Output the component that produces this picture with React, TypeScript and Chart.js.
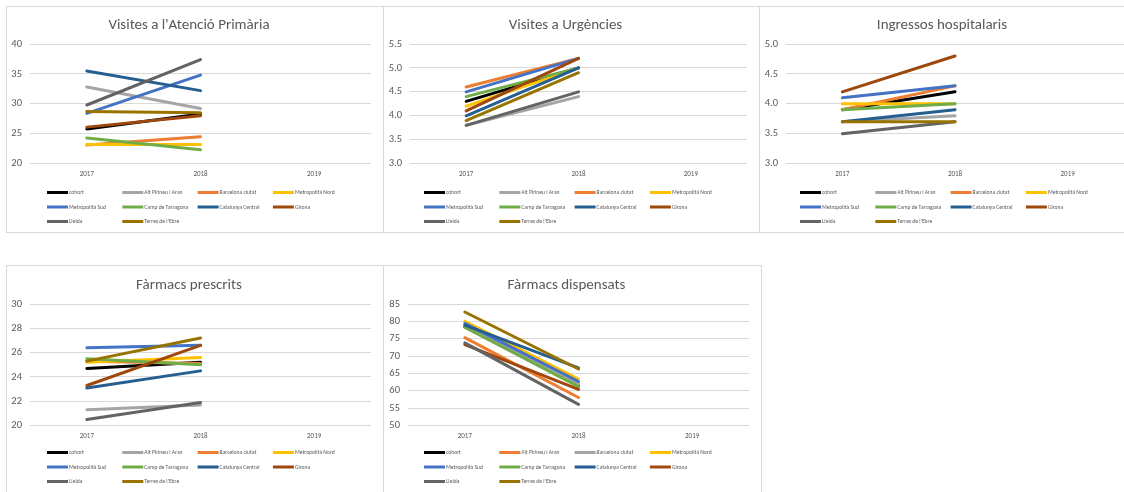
import { useEffect, useRef } from "react";
import { Chart, registerables } from "chart.js";

Chart.register(...registerables);

const FONT = "Carlito, Lato, 'Open Sans', sans-serif";
const TEXT_COLOR = "#595959";
const GRID_COLOR = "#d9d9d9";
const CANVAS_HEIGHT = 225;

const years = ["2017", "2018", "2019"];

const regions = [
  "cohort",
  "Alt Pirineu i Aran",
  "Barcelona ciutat",
  "Metropolità Nord",
  "Metropolità Sud",
  "Camp de Tarragona",
  "Catalunya Central",
  "Girona",
  "Lleida",
  "Terres de l'Ebre",
];

const palette = [
  "#000000",
  "#A5A5A5",
  "#ED7D31",
  "#FFC000",
  "#4472C4",
  "#70AD47",
  "#255E91",
  "#9E480E",
  "#636363",
  "#997300",
];

// the dispensed-drugs sheet swaps the first two regional colours
const dispensatsPalette = [
  "#000000",
  "#ED7D31",
  "#A5A5A5",
  "#FFC000",
  "#4472C4",
  "#70AD47",
  "#255E91",
  "#9E480E",
  "#636363",
  "#997300",
];

// values per region, in the order of `regions`
const primaria2017 = [25.8, 32.8, 23.1, 23.2, 28.4, 24.3, 35.5, 26.1, 29.8, 28.7];
const primaria2018 = [28.3, 29.2, 24.5, 23.2, 34.8, 22.3, 32.2, 28.0, 37.4, 28.5];

const urgencies2017 = [4.3, 3.8, 4.6, 4.2, 4.5, 4.4, 4.0, 4.1, 3.8, 3.9];
const urgencies2018 = [5.0, 4.4, 5.2, 5.0, 5.2, 5.0, 5.0, 5.2, 4.5, 4.9];

const ingressos2017 = [3.9, 3.7, 3.9, 4.0, 4.1, 3.9, 3.7, 4.2, 3.5, 3.7];
const ingressos2018 = [4.2, 3.8, 4.3, 4.0, 4.3, 4.0, 3.9, 4.8, 3.7, 3.7];

const prescrits2017 = [24.7, 21.3, 25.3, 25.2, 26.4, 25.5, 23.1, 23.3, 20.5, 25.3];
const prescrits2018 = [25.2, 21.7, 25.1, 25.6, 26.6, 25.0, 24.5, 26.6, 21.9, 27.2];

const dispensats2017 = [78.4, 75.3, 79.0, 80.0, 79.4, 78.3, 78.9, 73.3, 73.8, 82.7];
const dispensats2018 = [61.5, 58.1, 62.0, 63.4, 62.7, 61.2, 66.6, 60.4, 56.1, 66.3];

type PanelProps = {
  title: string;
  v2017: number[];
  v2018: number[];
  colors: string[];
  min: number;
  max: number;
  step: number;
  decimals: number;
  axisWidth: number;
  left: number;
  top: number;
  width: number;
  height: number;
  padTop: number;
  padBottom: number;
  legendShift: number;
};

const gridLegend = {
  id: "gridLegend",
  afterDraw(chart: any) {
    const ctx = chart.ctx as CanvasRenderingContext2D;
    const shift = chart.options.plugins.gridLegend?.shift ?? 0;
    ctx.save();
    ctx.font = `5.6px ${FONT}`;
    ctx.textBaseline = "middle";
    ctx.textAlign = "left";
    chart.data.datasets.forEach((ds: any, i: number) => {
      const col = i % 4;
      const row = Math.floor(i / 4);
      const x = 40 + col * 75.3;
      const y = 185.5 + shift + row * 14.5;
      ctx.strokeStyle = ds.borderColor;
      ctx.lineWidth = 3;
      ctx.lineCap = "butt";
      ctx.beginPath();
      ctx.moveTo(x, y);
      ctx.lineTo(x + 21, y);
      ctx.stroke();
      ctx.fillStyle = TEXT_COLOR;
      ctx.fillText(ds.label, x + 22, y + 0.3);
    });
    ctx.restore();
  },
};

function Panel(p: PanelProps) {
  const ref = useRef<HTMLCanvasElement | null>(null);
  const cw = p.width - 2;
  const ch = CANVAS_HEIGHT;

  useEffect(() => {
    if (!ref.current) return;
    const chart = new Chart(ref.current, {
      type: "line",
      data: {
        labels: years,
        datasets: regions.map((name, i) => ({
          label: name,
          data: [p.v2017[i], p.v2018[i], null],
          borderColor: p.colors[i],
          backgroundColor: p.colors[i],
          borderWidth: 3,
          borderCapStyle: "round" as const,
          pointRadius: 0,
          pointHoverRadius: 0,
          tension: 0,
          order: regions.length - i,
        })),
      },
      plugins: [gridLegend],
      options: {
        animation: false,
        responsive: false,
        devicePixelRatio: 1,
        events: [],
        layout: { padding: { left: 0, right: 12, top: p.padTop, bottom: p.padBottom } },
        plugins: {
          legend: { display: false },
          tooltip: { enabled: false },
          gridLegend: { shift: p.legendShift },
          title: {
            display: true,
            text: p.title,
            color: TEXT_COLOR,
            font: { family: FONT, size: 15, weight: "normal" },
            padding: { top: 9, bottom: 10 },
          },
        } as any,
        scales: {
          x: {
            type: "category",
            offset: true,
            grid: { display: false, drawTicks: false },
            border: { display: false },
            ticks: { color: TEXT_COLOR, font: { family: FONT, size: 7 }, padding: 6, maxRotation: 0 },
          },
          y: {
            min: p.min,
            max: p.max,
            grid: { color: GRID_COLOR, lineWidth: 1, drawTicks: false },
            border: { display: false },
            afterFit: (scale: any) => {
              scale.width = p.axisWidth;
            },
            ticks: {
              stepSize: p.step,
              color: TEXT_COLOR,
              font: { family: FONT, size: 10.5 },
              padding: 8,
              callback: (v: any) => Number(v).toFixed(p.decimals),
            },
          },
        },
      },
    });
    return () => chart.destroy();
  }, []);

  return (
    <div
      style={{
        position: "absolute",
        left: p.left,
        top: p.top,
        width: p.width,
        height: p.height,
        boxSizing: "border-box",
        border: `1px solid ${GRID_COLOR}`,
        background: "#fff",
      }}
    >
      <canvas ref={ref} width={cw} height={ch} style={{ display: "block", width: cw, height: ch }} />
    </div>
  );
}

export default function App() {
  return (
    <div
      style={{
        position: "fixed",
        left: 0,
        top: 0,
        width: 1124,
        height: 492,
        overflow: "hidden",
        background: "#fff",
      }}
    >
      <Panel title="Visites a l'Atenció Primària" v2017={primaria2017} v2018={primaria2018} colors={palette}
        min={20} max={40} step={5} decimals={0} axisWidth={23}
        left={6} top={6} width={378} height={227} padTop={0} padBottom={48} legendShift={0} />
      <Panel title="Visites a Urgències" v2017={urgencies2017} v2018={urgencies2018} colors={palette}
        min={3} max={5.5} step={0.5} decimals={1} axisWidth={26}
        left={383} top={6} width={377} height={227} padTop={0} padBottom={48} legendShift={0} />
      <Panel title="Ingressos hospitalaris" v2017={ingressos2017} v2018={ingressos2018} colors={palette}
        min={3} max={5} step={0.5} decimals={1} axisWidth={26}
        left={759} top={6} width={378} height={227} padTop={0} padBottom={48} legendShift={0} />
      <Panel title="Fàrmacs prescrits" v2017={prescrits2017} v2018={prescrits2018} colors={palette}
        min={20} max={30} step={2} decimals={0} axisWidth={23}
        left={6} top={265} width={378} height={240} padTop={1} padBottom={45} legendShift={1} />
      <Panel title="Fàrmacs dispensats" v2017={dispensats2017} v2018={dispensats2018} colors={dispensatsPalette}
        min={50} max={85} step={5} decimals={0} axisWidth={24}
        left={383} top={265} width={379} height={240} padTop={1} padBottom={45} legendShift={1} />
    </div>
  );
}
